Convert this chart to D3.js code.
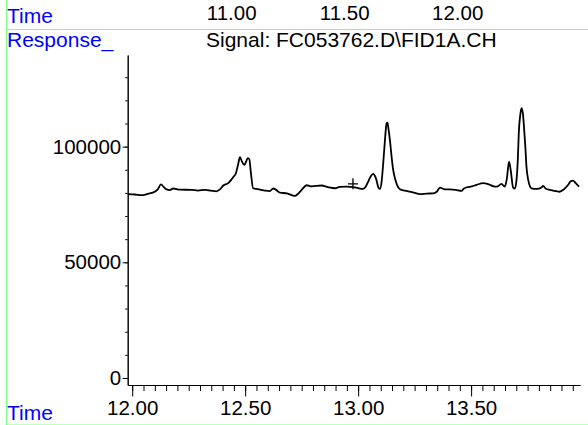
<!DOCTYPE html>
<html>
<head>
<meta charset="utf-8">
<script src="https://cdn.jsdelivr.net/npm/d3@7"></script>
<style>
  body { margin: 0; background: #fff; }
  text { font-family: "Liberation Sans", Arial, sans-serif; }
</style>
</head>
<body>
<div class="canvas"></div>
<script>
// chromatogram trace (time in min, detector response)
const times = [11.981, 12.012, 12.042, 12.069, 12.100, 12.113, 12.127, 12.140, 12.152, 12.167,
  12.181, 12.211, 12.263, 12.291, 12.322, 12.348, 12.373, 12.388, 12.403, 12.425,
  12.437, 12.447, 12.459, 12.468, 12.477, 12.486, 12.496, 12.504, 12.511, 12.518,
  12.525, 12.535, 12.550, 12.587, 12.609, 12.624, 12.636, 12.654, 12.685, 12.720,
  12.733, 12.750, 12.772, 12.795, 12.838, 12.866, 12.897, 12.919, 12.949, 12.985,
  13.022, 13.034, 13.044, 13.056, 13.066, 13.074, 13.081, 13.089, 13.096, 13.104,
  13.111, 13.118, 13.126, 13.130, 13.133, 13.141, 13.148, 13.155, 13.163, 13.172,
  13.185, 13.207, 13.229, 13.251, 13.273, 13.304, 13.332, 13.348, 13.362, 13.384,
  13.405, 13.432, 13.458, 13.467, 13.480, 13.503, 13.525, 13.553, 13.578, 13.605,
  13.618, 13.634, 13.649, 13.658, 13.668, 13.675, 13.686, 13.694, 13.701, 13.707,
  13.711, 13.718, 13.723, 13.729, 13.733, 13.740, 13.745, 13.753, 13.767, 13.791,
  13.811, 13.819, 13.831, 13.848, 13.870, 13.892, 13.910, 13.929, 13.941, 13.951,
  13.963, 13.978];
const response = [79500, 79300, 79000, 79600, 80500, 81500, 83700, 82500, 81500, 81200,
  81900, 81400, 81300, 81000, 81300, 81000, 80700, 81500, 83200, 84200,
  85500, 86800, 88500, 92000, 95400, 93500, 92100, 93500, 95000, 94700,
  89000, 82000, 81700, 81000, 80800, 81900, 81400, 80100, 79800, 78700,
  79500, 81300, 83300, 82800, 83200, 82500, 82000, 82600, 82700, 82400,
  81700, 82800, 84800, 87200, 88200, 87400, 85600, 82500, 81700, 85000,
  92800, 102000, 110000, 110400, 108500, 102500, 95700, 90000, 86300, 83500,
  81600, 81000, 80500, 80000, 79500, 79700, 79800, 80500, 82300, 81500,
  81500, 81300, 80900, 81800, 82400, 82800, 83500, 84200, 83700, 82700,
  82800, 83900, 82700, 86000, 93500, 90000, 82300, 81900, 85600, 95000,
  105800, 114000, 116600, 114500, 110000, 100000, 91400, 85500, 82000, 81700,
  82300, 83000, 81800, 81300, 80900, 80500, 81500, 83400, 85000, 85300,
  84200, 82700];

// "+" marker on the trace
const markTime = [12.977];
const markResponse = [83900];

// tick labels
const topTicks = [11.00, 11.50, 12.00];
const xMajor = [12.00, 12.50, 13.00, 13.50];
const yMajor = [0, 50000, 100000];

const width = 588, height = 425;
const green = '#80ff80';

const svg = d3.select('.canvas')
  .append('svg')
    .attr('width', width)
    .attr('height', height);

// frame lines of the report page
svg.append('line')
  .attr('x1', 6.5).attr('x2', 6.5).attr('y1', 0).attr('y2', 425)
  .attr('stroke', green);
svg.append('line')
  .attr('x1', 6.5).attr('x2', 588).attr('y1', 29.5).attr('y2', 29.5)
  .attr('stroke', green);
svg.append('line')
  .attr('x1', 6.5).attr('x2', 588).attr('y1', 424.5).attr('y2', 424.5)
  .attr('stroke', green).attr('stroke-opacity', 0.5);

// tail of the previous panel's time axis
const xTop = d3.scaleLinear().domain([11, 12]).range([231.7, 457.7]);
svg.selectAll('.toplabel')
  .data(topTicks)
  .enter()
  .append('text')
    .attr('class', 'toplabel')
    .attr('x', d => xTop(d))
    .attr('y', 20)
    .attr('text-anchor', 'middle')
    .attr('font-size', '20.5px')
    .text(d => d.toFixed(2));

const blueText = (txt, x, y) => svg.append('text')
  .attr('x', x).attr('y', y)
  .attr('fill', '#0000ff')
  .attr('font-size', '21px')
  .text(txt);
blueText('Time', 7, 23);
blueText('Response_', 7, 47);
blueText('Time', 7, 420);

svg.append('text')
  .attr('x', 206).attr('y', 47)
  .attr('font-size', '21px')
  .text('Signal: FC053762.D\\FID1A.CH');

// scales
const x = d3.scaleLinear().domain([11.98, 13.982]).range([127.7, 580]);
const y = d3.scaleLinear().domain([-3030, 139600]).range([385, 55]);

// x axis: major ticks with labels, minor ticks every 0.05
const xMinor = d3.range(12.00, 13.98, 0.05);
svg.append('g')
  .attr('transform', 'translate(0,385)')
  .call(d3.axisBottom(x).tickValues(xMinor).tickSize(6).tickSizeOuter(0).tickFormat(''));
const xAxis = svg.append('g')
  .attr('transform', 'translate(0,385)')
  .call(d3.axisBottom(x).tickValues(xMajor).tickSize(11.5).tickSizeOuter(0)
    .tickPadding(4).tickFormat(d => d.toFixed(2)));
xAxis.selectAll('text').attr('font-size', '20.5px').attr('font-family', '"Liberation Sans", Arial, sans-serif').attr('fill', '#000');

// y axis: major ticks with labels, minor every 10000
const yMinor = d3.range(0, 139000, 10000);
svg.append('g')
  .attr('transform', 'translate(127.7,0)')
  .call(d3.axisLeft(y).tickValues(yMinor).tickSize(2.5).tickSizeOuter(0).tickFormat(''));
const yAxis = svg.append('g')
  .attr('transform', 'translate(127.7,0)')
  .call(d3.axisLeft(y).tickValues(yMajor).tickSize(5).tickSizeOuter(0)
    .tickPadding(1.5).tickFormat(d3.format('d')));
yAxis.selectAll('text').attr('font-size', '20.5px').attr('font-family', '"Liberation Sans", Arial, sans-serif').attr('fill', '#000');

svg.selectAll('.domain, .tick line').attr('stroke', '#000');

// signal trace
const points = times.map((t, i) => [t, response[i]]);
const line = d3.line()
  .x(d => x(d[0]))
  .y(d => y(d[1]))
  .curve(d3.curveMonotoneX);
svg.append('path')
  .datum(points)
  .attr('d', line)
  .attr('fill', 'none')
  .attr('stroke', '#000')
  .attr('stroke-width', 1.8);

// marker
markTime.forEach((t, i) => {
  const cx = x(t), cy = y(markResponse[i]);
  svg.append('path')
    .attr('d', `M${cx - 5},${cy}H${cx + 5}M${cx},${cy - 5.5}V${cy + 5.5}`)
    .attr('stroke', '#000')
    .attr('stroke-width', 1.3);
});
</script>
</body>
</html>
